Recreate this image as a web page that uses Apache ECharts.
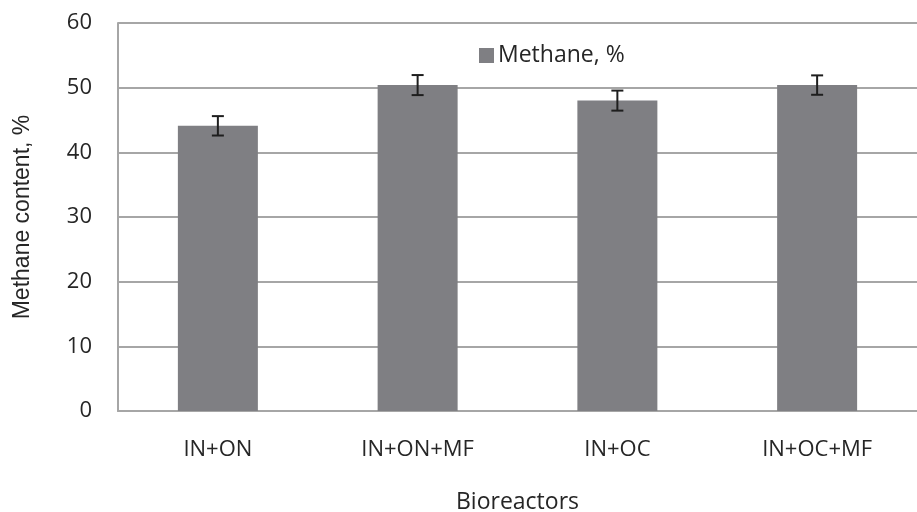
<!DOCTYPE html>
<html>
<head>
<meta charset="utf-8">
<script src="https://cdn.jsdelivr.net/npm/echarts@6/dist/echarts.min.js"></script>
<style>
html,body{margin:0;padding:0;background:#fff;}
#chart{width:917px;height:512px;}
</style>
</head>
<body>
<div id="chart"></div>
<script>
const categories = ['IN+ON', 'IN+ON+MF', 'IN+OC', 'IN+OC+MF'];
const methane = [44.1, 50.4, 48.0, 50.4];
const methaneErr = [1.5, 1.55, 1.55, 1.5];
const yTicks = [0, 10, 20, 30, 40, 50, 60];

const FONT = '"Open Sans", sans-serif';
const TXT = '#262626';

const errData = categories.map((c, i) => [i, methane[i] - methaneErr[i], methane[i] + methaneErr[i]]);

const chart = echarts.init(document.getElementById('chart'), null, {renderer: 'canvas'});
chart.setOption({
  animation: false,
  backgroundColor: '#ffffff',
  grid: {left: 118, right: 0, top: 23, bottom: 101, containLabel: false, outerBoundsMode: 'none'},
  legend: {
    left: 474, top: 39,
    itemWidth: 15, itemHeight: 15, itemGap: 10,
    icon: 'rect',
    data: ['Methane, %'],
    textStyle: {fontFamily: FONT, fontSize: 23, color: TXT, padding: [0, 0, 0, -1]}
  },
  xAxis: {
    type: 'category',
    data: categories,
    name: 'Bioreactors',
    nameLocation: 'middle',
    nameGap: 80,
    nameTextStyle: {fontFamily: FONT, fontSize: 23, color: TXT},
    axisLine: {show: true, lineStyle: {color: '#a6a6a6', width: 2}},
    axisTick: {show: false},
    axisLabel: {fontFamily: FONT, fontSize: 22, color: TXT, margin: 28}
  },
  yAxis: {
    type: 'value',
    min: yTicks[0], max: yTicks[yTicks.length - 1], interval: 10,
    name: 'Methane content, %',
    nameLocation: 'middle',
    nameGap: 84,
    nameTextStyle: {fontFamily: '"Liberation Sans", Arial, sans-serif', fontSize: 23, color: TXT},
    axisLine: {show: true, lineStyle: {color: '#a6a6a6', width: 2}},
    axisTick: {show: false},
    axisLabel: {fontFamily: FONT, fontSize: 22, color: TXT, margin: 26},
    splitLine: {show: true, lineStyle: {color: '#a6a6a6', width: 2}}
  },
  series: [
    {
      name: 'Methane, %',
      type: 'bar',
      data: methane,
      barWidth: 80,
      itemStyle: {color: '#7f7f83'},
      z: 2
    },
    {
      name: 'err',
      type: 'custom',
      data: errData,
      z: 5,
      renderItem: function (params, api) {
        const x = api.value(0);
        const lo = api.coord([x, api.value(1)]);
        const hi = api.coord([x, api.value(2)]);
        const hw = 6;
        const st = {stroke: '#1e1e1e', lineWidth: 2};
        return {
          type: 'group',
          children: [
            {type: 'line', shape: {x1: hi[0], y1: hi[1], x2: lo[0], y2: lo[1]}, style: st},
            {type: 'line', shape: {x1: hi[0] - hw, y1: hi[1], x2: hi[0] + hw, y2: hi[1]}, style: st},
            {type: 'line', shape: {x1: lo[0] - hw, y1: lo[1], x2: lo[0] + hw, y2: lo[1]}, style: st}
          ]
        };
      }
    }
  ]
});
</script>
</body>
</html>
